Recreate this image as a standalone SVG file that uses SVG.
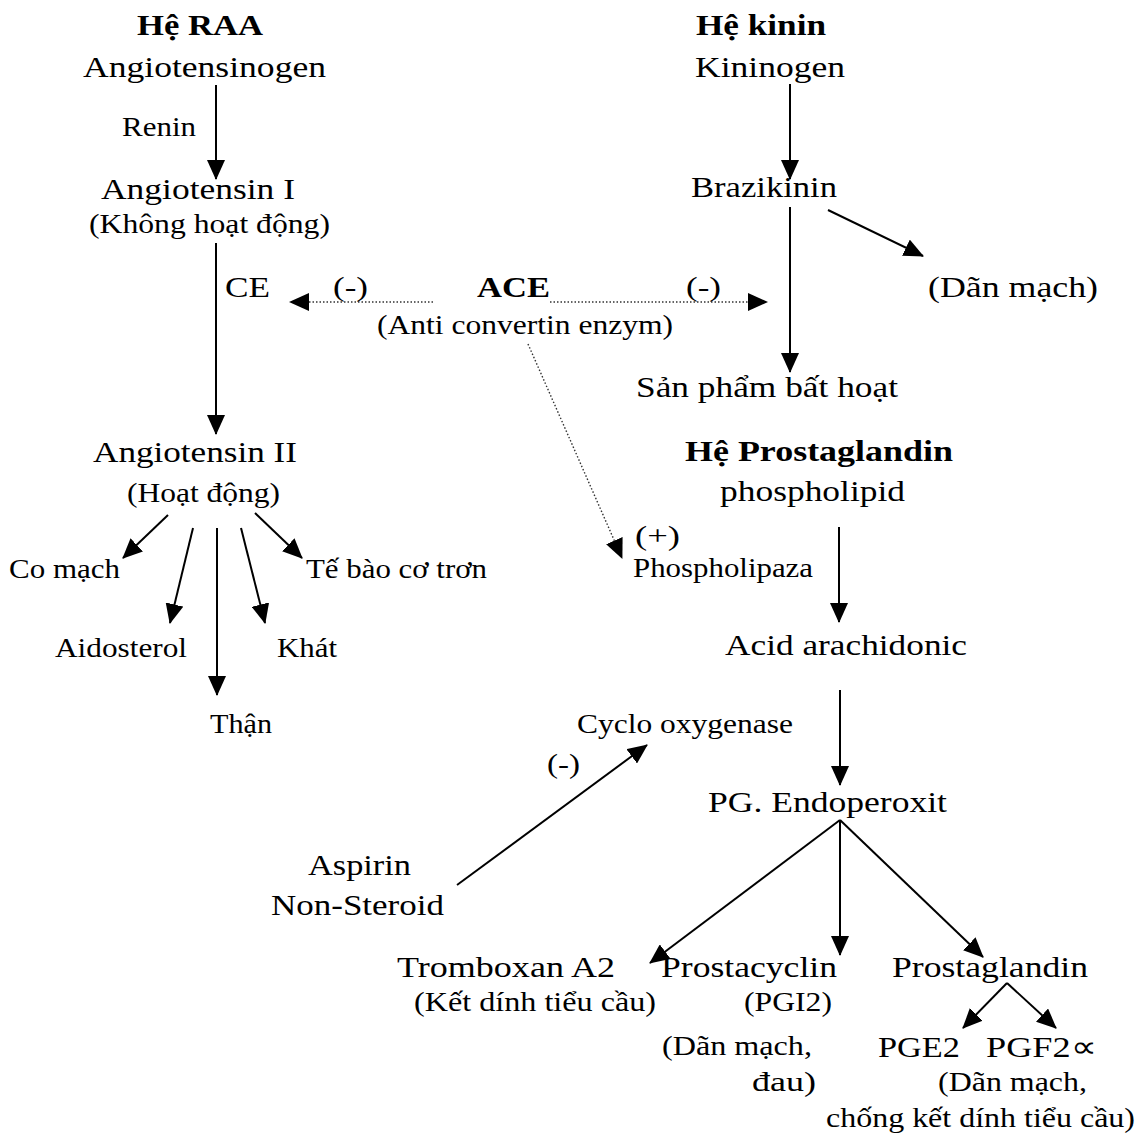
<svg xmlns="http://www.w3.org/2000/svg" width="1145" height="1135" viewBox="0 0 1145 1135">
<style>
text{font-family:"Liberation Serif","Times New Roman",serif;fill:#000;}
.m{font-size:30px;}
.s{font-size:27px;}
.b{font-size:30px;font-weight:bold;}
.ln{stroke:#000;stroke-width:2;fill:none;marker-end:url(#ah);}
.dt{stroke:#333;stroke-width:1.4;stroke-dasharray:1.5 2;fill:none;marker-end:url(#ah);}
</style>
<defs>
<marker id="ah" markerUnits="userSpaceOnUse" markerWidth="20" markerHeight="18" refX="19" refY="9" orient="auto" viewBox="0 0 20 18"><path d="M0,0 L20,9 L0,18 z" fill="#000"/></marker>
</defs>
<rect width="1145" height="1135" fill="#fff"/>
<g id="connectors">
<line class="ln" x1="216" y1="85" x2="216" y2="179"/>
<line class="ln" x1="216" y1="243" x2="216" y2="434"/>
<line class="dt" x1="433" y1="302" x2="290" y2="302"/>
<line class="dt" x1="550" y1="302" x2="767" y2="302"/>
<line class="dt" x1="528" y1="344" x2="622" y2="558"/>
<line class="ln" x1="168" y1="515" x2="123" y2="558"/>
<line class="ln" x1="193" y1="528" x2="170" y2="623"/>
<line class="ln" x1="217" y1="528" x2="217" y2="695"/>
<line class="ln" x1="241" y1="528" x2="265" y2="623"/>
<line class="ln" x1="255" y1="513" x2="302" y2="558"/>
<line class="ln" x1="790" y1="84" x2="790" y2="179"/>
<line class="ln" x1="790" y1="207" x2="790" y2="372"/>
<line class="ln" x1="828" y1="210" x2="923" y2="256"/>
<line class="ln" x1="839" y1="527" x2="839" y2="622"/>
<line class="ln" x1="840" y1="690" x2="840" y2="785"/>
<line class="ln" x1="840" y1="820" x2="650" y2="963"/>
<line class="ln" x1="840" y1="820" x2="840" y2="955"/>
<line class="ln" x1="840" y1="820" x2="983" y2="957"/>
<line class="ln" x1="1007" y1="983" x2="963" y2="1028"/>
<line class="ln" x1="1007" y1="983" x2="1056" y2="1028"/>
<line class="ln" x1="457" y1="885" x2="647" y2="745"/>
</g>
<g id="he-raa"><text class="b" x="137" y="35" textLength="126" lengthAdjust="spacingAndGlyphs">Hệ RAA</text></g>
<g id="angiotensinogen"><text class="m" x="83" y="77" textLength="243" lengthAdjust="spacingAndGlyphs">Angiotensinogen</text></g>
<g id="renin"><text class="s" x="122" y="136" textLength="74" lengthAdjust="spacingAndGlyphs">Renin</text></g>
<g id="angiotensin-1">
<text class="m" x="101" y="199" textLength="194" lengthAdjust="spacingAndGlyphs">Angiotensin I</text>
<text class="s" x="89" y="233" textLength="241" lengthAdjust="spacingAndGlyphs">(Không hoạt động)</text>
</g>
<g id="ce"><text class="m" x="225" y="297" textLength="45" lengthAdjust="spacingAndGlyphs">CE</text></g>
<g id="minus-left"><text class="s" x="333" y="296" textLength="35" lengthAdjust="spacingAndGlyphs">(-)</text></g>
<g id="ace">
<text class="b" x="477" y="297" textLength="73" lengthAdjust="spacingAndGlyphs">ACE</text>
<text class="s" x="377" y="334" textLength="296" lengthAdjust="spacingAndGlyphs">(Anti convertin enzym)</text>
</g>
<g id="minus-right"><text class="s" x="686" y="296" textLength="35" lengthAdjust="spacingAndGlyphs">(-)</text></g>
<g id="angiotensin-2">
<text class="m" x="93" y="462" textLength="204" lengthAdjust="spacingAndGlyphs">Angiotensin II</text>
<text class="s" x="127" y="502" textLength="153" lengthAdjust="spacingAndGlyphs">(Hoạt động)</text>
</g>
<g id="co-mach"><text class="s" x="9" y="578" textLength="111" lengthAdjust="spacingAndGlyphs">Co mạch</text></g>
<g id="te-bao"><text class="s" x="306" y="578" textLength="181" lengthAdjust="spacingAndGlyphs">Tế bào cơ trơn</text></g>
<g id="aidosterol"><text class="s" x="55" y="657" textLength="132" lengthAdjust="spacingAndGlyphs">Aidosterol</text></g>
<g id="khat"><text class="s" x="277" y="657" textLength="60" lengthAdjust="spacingAndGlyphs">Khát</text></g>
<g id="than"><text class="s" x="210" y="733" textLength="62" lengthAdjust="spacingAndGlyphs">Thận</text></g>
<g id="he-kinin"><text class="b" x="696" y="35" textLength="130" lengthAdjust="spacingAndGlyphs">Hệ kinin</text></g>
<g id="kininogen"><text class="m" x="695" y="77" textLength="150" lengthAdjust="spacingAndGlyphs">Kininogen</text></g>
<g id="brazikinin"><text class="m" x="691" y="197" textLength="146" lengthAdjust="spacingAndGlyphs">Brazikinin</text></g>
<g id="dan-mach-1"><text class="m" x="928" y="297" textLength="170" lengthAdjust="spacingAndGlyphs">(Dãn mạch)</text></g>
<g id="san-pham"><text class="m" x="636" y="397" textLength="262" lengthAdjust="spacingAndGlyphs">Sản phẩm bất hoạt</text></g>
<g id="he-prostaglandin"><text class="b" x="685" y="461" textLength="268" lengthAdjust="spacingAndGlyphs">Hệ Prostaglandin</text></g>
<g id="phospholipid"><text class="m" x="720" y="501" textLength="185" lengthAdjust="spacingAndGlyphs">phospholipid</text></g>
<g id="phospholipaza">
<text class="s" x="635" y="545" textLength="45" lengthAdjust="spacingAndGlyphs">(+)</text>
<text class="s" x="633" y="577" textLength="180" lengthAdjust="spacingAndGlyphs">Phospholipaza</text>
</g>
<g id="acid"><text class="m" x="725" y="655" textLength="242" lengthAdjust="spacingAndGlyphs">Acid arachidonic</text></g>
<g id="cyclo"><text class="s" x="577" y="733" textLength="216" lengthAdjust="spacingAndGlyphs">Cyclo oxygenase</text></g>
<g id="minus-cox"><text class="s" x="547" y="773" textLength="33" lengthAdjust="spacingAndGlyphs">(-)</text></g>
<g id="pg-endo"><text class="m" x="708" y="812" textLength="239" lengthAdjust="spacingAndGlyphs">PG. Endoperoxit</text></g>
<g id="aspirin">
<text class="m" x="308" y="875" textLength="103" lengthAdjust="spacingAndGlyphs">Aspirin</text>
<text class="m" x="271" y="915" textLength="173" lengthAdjust="spacingAndGlyphs">Non-Steroid</text>
</g>
<g id="tromboxan">
<text class="m" x="397" y="977" textLength="218" lengthAdjust="spacingAndGlyphs">Tromboxan A2</text>
<text class="s" x="414" y="1011" textLength="242" lengthAdjust="spacingAndGlyphs">(Kết dính tiểu cầu)</text>
</g>
<g id="prostacyclin">
<text class="m" x="661" y="977" textLength="176" lengthAdjust="spacingAndGlyphs">Prostacyclin</text>
<text class="s" x="744" y="1011" textLength="88" lengthAdjust="spacingAndGlyphs">(PGI2)</text>
<text class="s" x="662" y="1055" textLength="150" lengthAdjust="spacingAndGlyphs">(Dãn mạch,</text>
<text class="s" x="752" y="1091" textLength="64" lengthAdjust="spacingAndGlyphs">đau)</text>
</g>
<g id="prostaglandin"><text class="m" x="892" y="977" textLength="196" lengthAdjust="spacingAndGlyphs">Prostaglandin</text></g>
<g id="pge2"><text class="m" x="878" y="1057" textLength="82" lengthAdjust="spacingAndGlyphs">PGE2</text></g>
<g id="pgf2">
<text class="m" x="986" y="1057" textLength="110" lengthAdjust="spacingAndGlyphs">PGF2∝</text>
<text class="s" x="938" y="1091" textLength="149" lengthAdjust="spacingAndGlyphs">(Dãn mạch,</text>
<text class="s" x="826" y="1127" textLength="309" lengthAdjust="spacingAndGlyphs">chống kết dính tiểu cầu)</text>
</g>
</svg>
